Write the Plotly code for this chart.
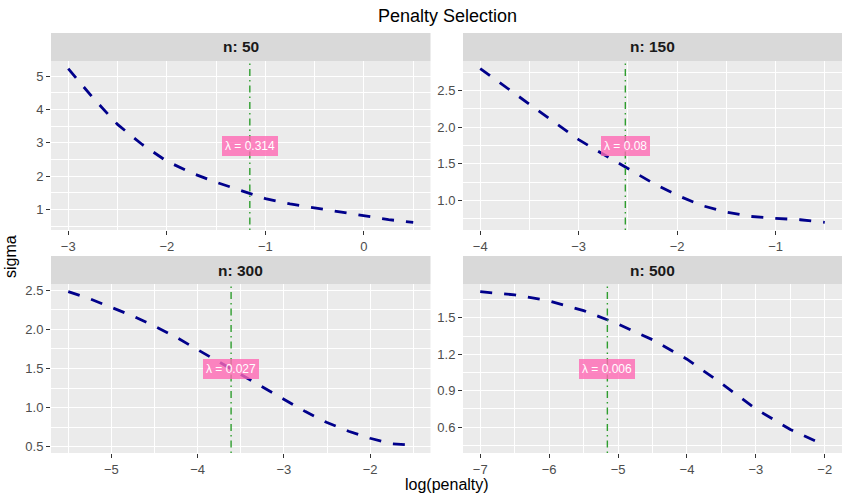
import plotly.graph_objects as go
import numpy as np

# sample sizes (one facet each)
sizes = [50, 150, 300, 500]

# log(penalty) grid and estimated sigma
logpen_50 = [-3, -2.75, -2.5, -2.25, -2, -1.75, -1.5, -1.25, -1, -0.75, -0.5, -0.25, 0, 0.25, 0.5]
sigma_50 = [5.22, 4.35, 3.55, 2.95, 2.45, 2.10, 1.82, 1.58, 1.33, 1.17, 1.05, 0.92, 0.80, 0.70, 0.62]

logpen_150 = [-4, -3.75, -3.5, -3.25, -3, -2.75, -2.5, -2.25, -2, -1.75, -1.5, -1.25, -1, -0.75, -0.5]
sigma_150 = [2.80, 2.56, 2.31, 2.07, 1.83, 1.63, 1.43, 1.24, 1.07, 0.93, 0.84, 0.78, 0.755, 0.735, 0.70]

logpen_300 = [-5.5, -5.25, -5, -4.75, -4.5, -4.25, -4, -3.75, -3.5, -3.25, -3, -2.75, -2.5, -2.25, -2, -1.75, -1.5]
sigma_300 = [2.48, 2.39, 2.28, 2.17, 2.04, 1.90, 1.74, 1.58, 1.42, 1.26, 1.11, 0.95, 0.81, 0.70, 0.61, 0.54, 0.52]

logpen_500 = [-7, -6.5, -6, -5.5, -5, -4.5, -4, -3.5, -3, -2.5, -2]
sigma_500 = [1.716, 1.69, 1.64, 1.56, 1.45, 1.32, 1.16, 0.96, 0.75, 0.58, 0.45]

# selected log(lambda) per facet
sel_loglambda = [-1.158, -2.526, -3.612, -5.155]

# y tick spacing per facet
y_dtick = [1, 0.5, 0.5, 0.3]
y_fmt = ["d", ".1f", ".1f", ".1f"]

xs = [logpen_50, logpen_150, logpen_300, logpen_500]
ys = [sigma_50, sigma_150, sigma_300, sigma_500]

W, H = 850, 500
# panel boxes in pixels (left, right, top, bottom), strip height above
panels = [(51, 430.5, 61, 230), (463, 842, 61, 230),
          (51, 430.5, 284, 453), (463, 842, 284, 453)]
strip_h = 28

font_fam = "Liberation Sans, Arial, sans-serif"
bg = "#EBEBEB"

fig = go.Figure()
layout = dict(
    width=W, height=H,
    margin=dict(l=0, r=0, t=0, b=0, autoexpand=False),
    paper_bgcolor="white", plot_bgcolor=bg,
    showlegend=False,
    font=dict(family=font_fam, color="#4D4D4D"),
    shapes=[], annotations=[],
)

def expand(vals, frac=0.05):
    lo, hi = min(vals), max(vals)
    d = (hi - lo) * frac
    return [lo - d, hi + d]

for i, n in enumerate(sizes):
    k = "" if i == 0 else str(i + 1)
    xa, ya = "x" + k, "y" + k
    l, r, t, b = panels[i]
    xdom = [l / W, r / W]
    ydom = [1 - b / H, 1 - t / H]

    fig.add_trace(go.Scatter(
        x=xs[i], y=ys[i], mode="lines", xaxis=xa, yaxis=ya,
        line=dict(color="#00008B", width=2.8, dash="12px,12px"),
        hoverinfo="skip"))

    xr = expand(xs[i])
    yr = expand(ys[i])
    # vertical line at chosen penalty
    fig.add_trace(go.Scatter(
        x=[sel_loglambda[i], sel_loglambda[i]], y=yr, mode="lines",
        xaxis=xa, yaxis=ya,
        line=dict(color="#2E9E2E", width=1.4, dash="1.5px,4px,7px,4px"),
        hoverinfo="skip"))

    layout["xaxis" + k] = dict(
        domain=xdom, anchor=ya, range=xr, automargin=False,
        tickmode="linear", tick0=0, dtick=1,
        showgrid=True, gridcolor="white", gridwidth=1.4,
        minor=dict(tick0=0, dtick=0.5, showgrid=True, gridcolor="white", gridwidth=0.8, ticks=""),
        ticks="outside", ticklen=4, tickcolor="#333333", tickwidth=1,
        tickfont=dict(size=13, color="#4D4D4D"),
        zeroline=False, showline=False, fixedrange=True)
    layout["yaxis" + k] = dict(
        domain=ydom, anchor=xa, range=yr, automargin=False,
        tickmode="linear", tick0=0, dtick=y_dtick[i], tickformat=y_fmt[i],
        showgrid=True, gridcolor="white", gridwidth=1.4,
        minor=dict(tick0=0, dtick=y_dtick[i] / 2, showgrid=True, gridcolor="white", gridwidth=0.8, ticks=""),
        ticks="outside", ticklen=4, tickcolor="#333333", tickwidth=1,
        tickfont=dict(size=13, color="#4D4D4D"),
        zeroline=False, showline=False, fixedrange=True)

    # strip
    layout["shapes"].append(dict(
        type="rect", xref="paper", yref="paper",
        x0=l / W, x1=r / W, y0=1 - t / H, y1=1 - (t - strip_h) / H,
        fillcolor="#D9D9D9", line=dict(width=0), layer="below"))
    layout["annotations"].append(dict(
        xref="paper", yref="paper", x=(l + r) / 2 / W, y=1 - (t - strip_h / 2) / H,
        text="<b>n: %d</b>" % n, showarrow=False, xanchor="center", yanchor="middle",
        font=dict(size=15.5, color="#1A1A1A")))

    # lambda label
    lam = np.exp(sel_loglambda[i])
    layout["annotations"].append(dict(
        xref=xa, yref=ya, x=sel_loglambda[i], y=(min(ys[i]) + max(ys[i])) / 2,
        text="λ = %s" % ("%.3f" % lam).rstrip("0"), showarrow=False,
        xanchor="center", yanchor="middle",
        font=dict(size=12, color="white"),
        bgcolor="rgba(255,105,180,0.8)", borderpad=3, borderwidth=0))

# title and axis titles
layout["annotations"] += [
    dict(xref="paper", yref="paper", x=447 / W, y=1 - 16 / H, text="Penalty Selection",
         showarrow=False, xanchor="center", yanchor="middle",
         font=dict(size=18, color="black")),
    dict(xref="paper", yref="paper", x=447 / W, y=1 - 484 / H, text="log(penalty)",
         showarrow=False, xanchor="center", yanchor="middle",
         font=dict(size=16, color="black")),
    dict(xref="paper", yref="paper", x=10 / W, y=1 - 257 / H, text="sigma",
         showarrow=False, xanchor="center", yanchor="middle", textangle=-90,
         font=dict(size=16, color="black")),
]

fig.update_layout(**layout)
# drop the default page margin so the figure sits at the top-left corner
fig.write_html("out.html", config={"displayModeBar": False},
               post_script="document.body.style.margin='0';")
